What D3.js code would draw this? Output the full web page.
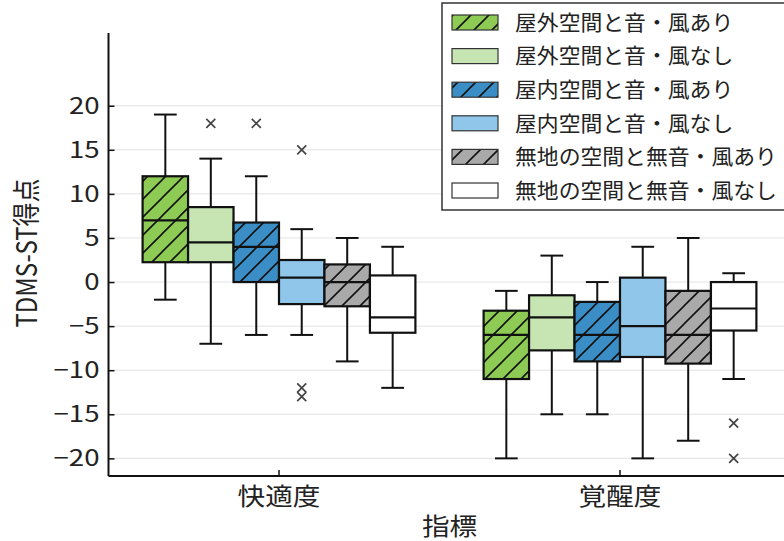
<!DOCTYPE html>
<html><head><meta charset="utf-8">
<script src="https://cdn.jsdelivr.net/npm/d3@7"></script>
<style>html,body{margin:0;padding:0;background:#fff;}svg{display:block;}</style>
</head><body>
<svg id="c" width="784" height="541"></svg>
<script>
const categories = ["快適度", "覚醒度"];
const seriesNames = ["屋外空間と音・風あり", "屋外空間と音・風なし", "屋内空間と音・風あり", "屋内空間と音・風なし", "無地の空間と無音・風あり", "無地の空間と無音・風なし"];
const seriesColors = ["#8dcb55", "#c6e5b2", "#3b8ec5", "#90c6ea", "#a9a9a9", "#ffffff"];
const seriesHatched = [true, false, true, false, true, false];
// [whisker low, q1, median, q3, whisker high] per category
const outdoorWind   = [[-2, 2.25, 7, 12, 19],        [-20, -11, -6, -3.25, -1]];
const outdoorNoWind = [[-7, 2.25, 4.5, 8.5, 14],     [-15, -7.75, -4, -1.5, 3]];
const indoorWind    = [[-6, 0, 4, 6.75, 12],         [-15, -9, -6, -2.25, 0]];
const indoorNoWind  = [[-6, -2.5, 0.5, 2.5, 6],      [-20, -8.5, -5, 0.5, 4]];
const blankWind     = [[-9, -2.75, 0, 2, 5],         [-18, -9.25, -6, -1, 5]];
const blankNoWind   = [[-12, -5.75, -4, 0.75, 4],    [-11, -5.5, -3, 0, 1]];
const outdoorWindOut   = [[], []];
const outdoorNoWindOut = [[18], []];
const indoorWindOut    = [[18], []];
const indoorNoWindOut  = [[15, -12, -13], []];
const blankWindOut     = [[], []];
const blankNoWindOut   = [[], [-16, -20]];
const yTicks = [-20, -15, -10, -5, 0, 5, 10, 15, 20];
const yLabel = "TDMS-ST得点";
const xLabel = "指標";

const stats = [outdoorWind, outdoorNoWind, indoorWind, indoorNoWind, blankWind, blankNoWind];
const outs = [outdoorWindOut, outdoorNoWindOut, indoorWindOut, indoorNoWindOut, blankWindOut, blankNoWindOut];

const FONT = "'Noto Sans CJK JP', 'Noto Sans', sans-serif";
const svg = d3.select("#c");
const pLeft = 108.5, pRight = 790.5, pTop = 33, pBottom = 476;

const x = d3.scaleBand().domain(categories).range([pLeft, pRight]).paddingInner(0).paddingOuter(0);
const inner = d3.scaleBand().domain(seriesNames).range([0.1 * x.bandwidth(), 0.9 * x.bandwidth()]);
const y = d3.scaleLinear().domain([-22, 28.25]).range([pBottom, pTop]);

// hatch pattern
const defs = svg.append("defs");
const hp = defs.append("pattern").attr("id", "hatch").attr("patternUnits", "userSpaceOnUse")
  .attr("width", 18).attr("height", 18);
hp.append("path").attr("d", "M-4.5,4.5 L4.5,-4.5 M0,18 L18,0 M13.5,22.5 L22.5,13.5")
  .attr("stroke", "#111").attr("stroke-width", 1.6);

// gridlines
svg.append("g").selectAll("line").data(yTicks).join("line")
  .attr("x1", pLeft).attr("x2", 784).attr("y1", d => y(d)).attr("y2", d => y(d))
  .attr("stroke", "#e3e3e3").attr("stroke-width", 1);

// boxes
const g = svg.append("g");
seriesNames.forEach((s, si) => {
  categories.forEach((c, ci) => {
    const [lo, q1, med, q3, hi] = stats[si][ci];
    const x0 = x(c) + inner(s), w = inner.bandwidth(), cx = x0 + w / 2;
    const gg = g.append("g");
    gg.append("line").attr("x1", cx).attr("x2", cx).attr("y1", y(q3)).attr("y2", y(hi)).attr("stroke", "#111").attr("stroke-width", 2);
    gg.append("line").attr("x1", cx).attr("x2", cx).attr("y1", y(q1)).attr("y2", y(lo)).attr("stroke", "#111").attr("stroke-width", 2);
    gg.append("line").attr("x1", cx - w / 4).attr("x2", cx + w / 4).attr("y1", y(hi)).attr("y2", y(hi)).attr("stroke", "#111").attr("stroke-width", 2);
    gg.append("line").attr("x1", cx - w / 4).attr("x2", cx + w / 4).attr("y1", y(lo)).attr("y2", y(lo)).attr("stroke", "#111").attr("stroke-width", 2);
    gg.append("rect").attr("x", x0).attr("y", y(q3)).attr("width", w).attr("height", y(q1) - y(q3))
      .attr("fill", seriesColors[si]);
    if (seriesHatched[si]) {
      gg.append("rect").attr("x", x0).attr("y", y(q3)).attr("width", w).attr("height", y(q1) - y(q3))
        .attr("fill", "url(#hatch)");
    }
    gg.append("rect").attr("x", x0).attr("y", y(q3)).attr("width", w).attr("height", y(q1) - y(q3))
      .attr("fill", "none").attr("stroke", "#111").attr("stroke-width", 2.2);
    gg.append("line").attr("x1", x0).attr("x2", x0 + w).attr("y1", y(med)).attr("y2", y(med)).attr("stroke", "#111").attr("stroke-width", 2.2);
    outs[si][ci].forEach(v => {
      const r = 4.5;
      gg.append("path").attr("d", `M${cx - r},${y(v) - r}L${cx + r},${y(v) + r}M${cx - r},${y(v) + r}L${cx + r},${y(v) - r}`)
        .attr("stroke", "#444").attr("stroke-width", 1.7);
    });
  });
});

// axes
const yAxis = svg.append("g").attr("transform", `translate(${pLeft},0)`)
  .call(d3.axisLeft(y).tickValues(yTicks).tickSize(-6).tickPadding(9).tickFormat(d => d < 0 ? "\u2212" + Math.abs(d) : d));
yAxis.select(".domain").remove();
yAxis.selectAll(".tick line").attr("stroke", "#111").attr("stroke-width", 1.5);
yAxis.selectAll("text").attr("x", null).attr("transform", "translate(-9,0) scale(1.2,1)")
  .attr("font-family", FONT).attr("font-size", 23).attr("fill", "#222");

const xAxis = svg.append("g").attr("transform", `translate(0,${pBottom})`)
  .call(d3.axisBottom(x).tickSize(-6).tickPadding(12));
xAxis.select(".domain").remove();
xAxis.selectAll(".tick line").attr("stroke", "#111").attr("stroke-width", 1.5);
xAxis.selectAll("text").attr("transform", "scale(1.15,1)")
  .attr("font-family", FONT).attr("font-size", 24).attr("fill", "#222");

svg.append("line").attr("x1", pLeft).attr("x2", pLeft).attr("y1", pTop).attr("y2", pBottom).attr("stroke", "#111").attr("stroke-width", 2);
svg.append("line").attr("x1", pLeft).attr("x2", pRight).attr("y1", pBottom).attr("y2", pBottom).attr("stroke", "#111").attr("stroke-width", 2);

svg.append("text").attr("transform", `translate(27,253) rotate(-90) scale(1,1.2)`)
  .attr("text-anchor", "middle").attr("dy", "0.35em").attr("font-family", FONT).attr("font-size", 24).attr("fill", "#222").text(yLabel);
svg.append("text").attr("transform", `translate(${(pLeft + pRight) / 2},535) scale(1.15,1)`)
  .attr("text-anchor", "middle").attr("font-family", FONT).attr("font-size", 24).attr("fill", "#222").text(xLabel);

// legend
const lg = svg.append("g");
lg.append("rect").attr("x", 442).attr("y", 3).attr("width", 360).attr("height", 207)
  .attr("fill", "#fff").attr("stroke", "#333").attr("stroke-width", 1.5);
seriesNames.forEach((s, si) => {
  const cy = 22.5 + si * 33.6;
  lg.append("rect").attr("x", 452).attr("y", cy - 7.5).attr("width", 46).attr("height", 15).attr("fill", seriesColors[si]);
  if (seriesHatched[si]) lg.append("rect").attr("x", 452).attr("y", cy - 7.5).attr("width", 46).attr("height", 15).attr("fill", "url(#hatch)");
  lg.append("rect").attr("x", 452).attr("y", cy - 7.5).attr("width", 46).attr("height", 15).attr("fill", "none").attr("stroke", "#333").attr("stroke-width", 1.2);
  lg.append("text").attr("transform", `translate(515,${cy}) scale(1.04,1)`).attr("dy", "0.35em")
    .attr("font-family", FONT).attr("font-size", 21).attr("fill", "#222").text(s);
});
</script>
</body></html>
